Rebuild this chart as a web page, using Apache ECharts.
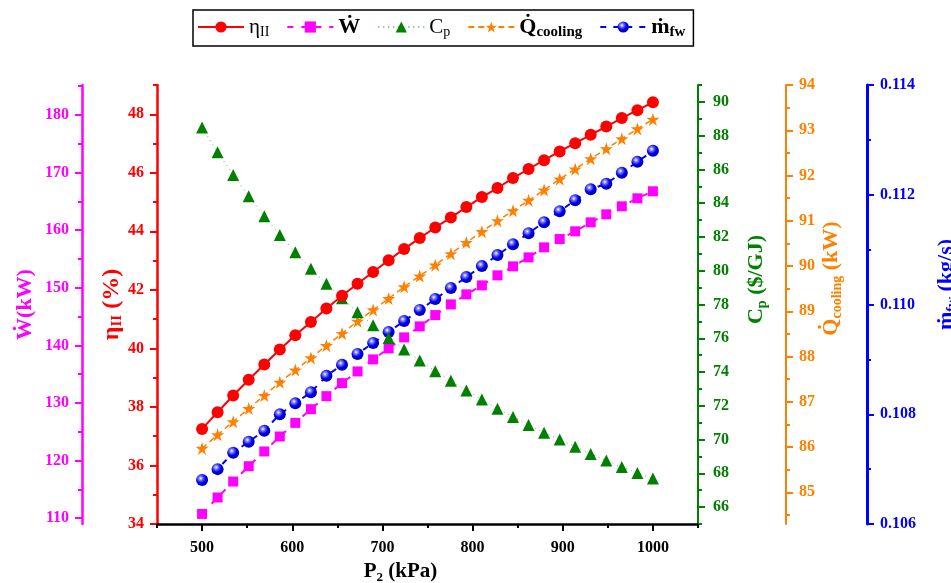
<!DOCTYPE html>
<html>
<head>
<meta charset="utf-8">
<script src="https://cdn.jsdelivr.net/npm/echarts@6/dist/echarts.min.js"></script>
<style>
  html, body { margin: 0; padding: 0; background: #fff; }
  #chart { width: 951px; height: 583px; }
</style>
</head>
<body>
<div id="chart"></div>
<script>
// Compressor outlet pressure P2 (kPa)
const pressure = [500, 517.2, 534.5, 551.7, 569.0, 586.2, 603.4, 620.7, 637.9, 655.2,
  672.4, 689.7, 706.9, 724.1, 741.4, 758.6, 775.9, 793.1, 810.3, 827.6,
  844.8, 862.1, 879.3, 896.6, 913.8, 931.0, 948.3, 965.5, 982.8, 1000];

// Second-law efficiency (%)
const etaII = [37.25, 37.82, 38.39, 38.93, 39.45, 39.96, 40.45, 40.90, 41.36, 41.80,
  42.21, 42.61, 43.01, 43.40, 43.77, 44.13, 44.47, 44.83, 45.17, 45.48,
  45.82, 46.13, 46.43, 46.73, 47.01, 47.30, 47.58, 47.87, 48.14, 48.41];

// Net power (kW)
const workRate = [110.75, 113.60, 116.37, 119.03, 121.59, 124.19, 126.55, 128.93, 131.19, 133.45,
  135.48, 137.57, 139.48, 141.39, 143.30, 145.26, 147.12, 148.86, 150.42, 152.16,
  153.72, 155.28, 157.02, 158.46, 159.80, 161.36, 162.75, 164.14, 165.53, 166.75];

// Product cost rate ($/GJ)
const costRate = [88.49, 87.02, 85.67, 84.41, 83.23, 82.12, 81.09, 80.12, 79.23, 78.37,
  77.54, 76.77, 76.02, 75.34, 74.69, 74.05, 73.48, 72.90, 72.37, 71.83,
  71.34, 70.86, 70.40, 70.01, 69.57, 69.15, 68.76, 68.38, 68.02, 67.69];

// Cooling load (kW)
const coolingLoad = [85.97, 86.27, 86.56, 86.85, 87.14, 87.43, 87.70, 87.97, 88.24, 88.51,
  88.78, 89.03, 89.28, 89.54, 89.78, 90.02, 90.27, 90.52, 90.76, 91.00,
  91.22, 91.45, 91.68, 91.92, 92.14, 92.37, 92.59, 92.81, 93.03, 93.24];

// Fresh water mass flow (kg/s)
const freshWater = [0.1068, 0.1070, 0.1073, 0.1075, 0.1077, 0.1080, 0.1082, 0.1084, 0.1087, 0.1089,
  0.1091, 0.1093, 0.1095, 0.1097, 0.1099, 0.1101, 0.1103, 0.1105, 0.1107, 0.1109,
  0.1111, 0.1113, 0.1115, 0.1117, 0.1119, 0.1121, 0.1122, 0.1124, 0.1126, 0.1128];

// Tick labels (major) and minor tick positions
const pressureTicks = [500, 600, 700, 800, 900, 1000];
const pressureMinor = [450, 550, 650, 750, 850, 950, 1050];
const etaTicks = [34, 36, 38, 40, 42, 44, 46, 48];
const etaMinor = [35, 37, 39, 41, 43, 45, 47, 49];
const workTicks = [110, 120, 130, 140, 150, 160, 170, 180];
const workMinor = [115, 125, 135, 145, 155, 165, 175, 185];
const costTicks = [66, 68, 70, 72, 74, 76, 78, 80, 82, 84, 86, 88, 90];
const costMinor = [65, 67, 69, 71, 73, 75, 77, 79, 81, 83, 85, 87, 89, 91];
const coolingTicks = [85, 86, 87, 88, 89, 90, 91, 92, 93, 94];
const coolingMinor = [84.5, 85.5, 86.5, 87.5, 88.5, 89.5, 90.5, 91.5, 92.5, 93.5];
const waterTicks = [0.106, 0.108, 0.110, 0.112, 0.114];
const waterMinor = [0.107, 0.109, 0.111, 0.113];

const FONT = '"Liberation Serif", "Times New Roman", serif';
const C = { eta: '#ff0000', w: '#ff00ff', cp: '#008000', q: '#ff8000', m: '#0000ff' };

function nameRich(color, size) {
  return {
    b: { fontFamily: FONT, fontWeight: 'bold', fontSize: size, color: color },
    s: { fontFamily: FONT, fontWeight: 'bold', fontSize: Math.round(size * 0.62), color: color, padding: [12, 0, 0, 0] }
  };
}

function yAxisPair(c) {
  const main = {
    type: 'value', position: c.position, offset: c.offset, min: c.min, max: c.max,
    axisLine: { show: true, onZero: false, lineStyle: { color: c.color, width: c.lineWidth || 2.5 } },
    axisTick: { show: true, customValues: c.major, length: 7, lineStyle: { color: c.color, width: 2 } },
    axisLabel: {
      show: true, customValues: c.major, color: c.color, fontFamily: FONT, fontWeight: 'bold',
      fontSize: 16, margin: c.labelMargin || 13, formatter: c.formatter || (v => String(v))
    },
    splitLine: { show: false },
    name: c.name, nameLocation: 'middle', nameGap: c.nameGap, nameMoveOverlap: false,
    nameTextStyle: { rich: nameRich(c.color, c.nameSize || 22), padding: c.namePadding || 0 }
  };
  const minor = {
    type: 'value', position: c.position, offset: c.offset, min: c.min, max: c.max,
    axisLine: { show: false },
    axisTick: { show: true, customValues: c.minor, length: 4, lineStyle: { color: c.color, width: 2 } },
    axisLabel: { show: false },
    splitLine: { show: false }
  };
  return [main, minor];
}

const axesY = [
  yAxisPair({ position: 'left', offset: 0, min: 34, max: 49, color: C.eta, major: etaTicks, minor: etaMinor,
    name: '{b|η}{s|II}{b| (%)}', nameGap: 32, nameSize: 24 }),
  yAxisPair({ position: 'left', offset: 75, min: 109, max: 185.2, color: C.w, major: workTicks, minor: workMinor,
    name: '{b|Ẇ(kW)}', nameGap: 46 }),
  yAxisPair({ position: 'right', offset: 0, min: 65, max: 91, color: C.cp, major: costTicks, minor: costMinor,
    name: '{b|C}{s|p}{b| ($/GJ)}', nameGap: 45, lineWidth: 2, namePadding: [0, 0, 0, 50], labelMargin: 15 }),
  yAxisPair({ position: 'right', offset: 88, min: 84.3, max: 94, color: C.q, major: coolingTicks, minor: coolingMinor,
    name: '{b|Q̇}{s|cooling}{b| (kW)}', nameGap: 32, lineWidth: 2, namePadding: [0, 0, 0, 52] }),
  yAxisPair({ position: 'right', offset: 169, min: 0.106, max: 0.114, color: C.m, major: waterTicks, minor: waterMinor,
    name: '{b|ṁ}{s|fw}{b| (kg/s)}', nameGap: 66, lineWidth: 3, namePadding: [0, 0, 0, 40],
    formatter: v => v.toFixed(3) })
];
// main axes first (indices 0-4), minor-tick overlays after (5-9)
const yAxes = axesY.map(p => p[0]).concat(axesY.map(p => p[1]));

const xAxes = [
  {
    type: 'value', min: 450, max: 1050, position: 'bottom',
    axisLine: { show: true, onZero: false, lineStyle: { color: '#000', width: 2.5 } },
    axisTick: { show: true, customValues: pressureTicks, length: 7, lineStyle: { color: '#000', width: 2 } },
    axisLabel: {
      show: true, customValues: pressureTicks, color: '#000', fontFamily: FONT, fontWeight: 'bold',
      fontSize: 16, margin: 16, formatter: v => String(v)
    },
    splitLine: { show: false },
    name: '{b|P}{s|2}{b| (kPa)}', nameLocation: 'middle', nameGap: 35, nameMoveOverlap: false,
    nameTextStyle: { rich: nameRich('#000', 21), padding: [0, 54, 0, 0] }
  },
  {
    type: 'value', min: 450, max: 1050, position: 'bottom',
    axisLine: { show: false },
    axisTick: { show: true, customValues: pressureMinor, length: 4, lineStyle: { color: '#000', width: 2 } },
    axisLabel: { show: false },
    splitLine: { show: false }
  }
];

const starPath = 'path://M50,0 L61.8,35.1 L98.9,35.1 L68.9,57.3 L80.3,92.7 L50,70.8 L19.7,92.7 L31.1,57.3 L1.1,35.1 L38.2,35.1 Z';
const ballFill = {
  type: 'radial', x: 0.38, y: 0.35, r: 0.65,
  colorStops: [
    { offset: 0, color: '#ffffff' },
    { offset: 0.25, color: '#7a7aff' },
    { offset: 0.6, color: '#0000f0' },
    { offset: 1, color: '#0000a8' }
  ]
};

function pairs(values) { return pressure.map((p, i) => [p, values[i]]); }

const legendText = {
  eta: '{r|η}{rs|II}',
  W: '{b|Ẇ}',
  Cp: '{r|C}{rs|p}',
  Q: '{b|Q̇}{bs|cooling}',
  m: '{b|ṁ}{bs|fw}'
};

const option = {
  animation: false,
  backgroundColor: '#fff',
  grid: { left: 157, right: 253, top: 85, bottom: 59, containLabel: false, outerBoundsMode: 'none' },
  legend: {
    left: 193, top: 10,
    itemWidth: 46, itemHeight: 14, itemGap: 17,
    padding: [6, 8, 6, 4],
    borderColor: '#000', borderWidth: 1.5,
    formatter: n => legendText[n],
    textStyle: {
      fontFamily: FONT, fontSize: 21, color: '#000',
      rich: {
        r: { fontFamily: FONT, fontSize: 21, color: '#000' },
        rs: { fontFamily: FONT, fontSize: 14, color: '#000', padding: [11, 0, 0, 0] },
        b: { fontFamily: FONT, fontSize: 22, fontWeight: 'bold', color: '#000' },
        bs: { fontFamily: FONT, fontSize: 15, fontWeight: 'bold', color: '#000', padding: [11, 0, 0, 0] }
      }
    },
    data: ['eta', 'W', 'Cp', 'Q', 'm']
  },
  xAxis: xAxes,
  yAxis: yAxes,
  series: [
    {
      name: 'W', type: 'line', yAxisIndex: 1, data: pairs(workRate),
      symbol: 'rect', symbolSize: 10,
      itemStyle: { color: C.w },
      lineStyle: { color: C.w, width: 2, type: [6, 8] }
    },
    {
      name: 'm', type: 'line', yAxisIndex: 4, data: pairs(freshWater),
      symbol: 'circle', symbolSize: 12,
      itemStyle: { color: ballFill },
      lineStyle: { color: C.m, width: 2, type: [6, 7] }
    },
    {
      name: 'Q', type: 'line', yAxisIndex: 3, data: pairs(coolingLoad),
      symbol: starPath, symbolSize: 13,
      itemStyle: { color: C.q },
      lineStyle: { color: C.q, width: 1.5, type: [6, 4] }
    },
    {
      name: 'Cp', type: 'line', yAxisIndex: 2, data: pairs(costRate),
      symbol: 'triangle', symbolSize: 12,
      itemStyle: { color: C.cp },
      lineStyle: { color: C.cp, width: 1, type: [1, 4], opacity: 0.6 }
    },
    {
      name: 'eta', type: 'line', yAxisIndex: 0, data: pairs(etaII),
      symbol: 'circle', symbolSize: 12,
      itemStyle: { color: C.eta },
      lineStyle: { color: C.eta, width: 2 }
    }
  ]
};

const chart = echarts.init(document.getElementById('chart'), null, { renderer: 'canvas' });
chart.setOption(option);
</script>
</body>
</html>
